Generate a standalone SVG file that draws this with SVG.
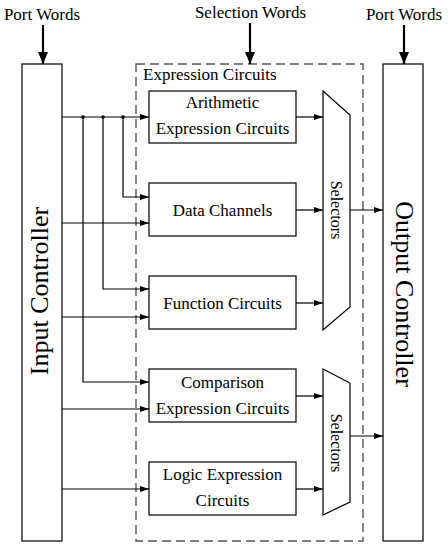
<svg xmlns="http://www.w3.org/2000/svg" width="448" height="550" viewBox="0 0 448 550" font-family="'Liberation Serif', serif">
<defs>
<style>
text{font-family:'Liberation Serif',serif;fill:#000}
.t{font-size:17px;text-anchor:middle}
.big{font-size:26px;text-anchor:middle}
.box{fill:#fff;stroke:#000;stroke-width:1.2}
.ln{fill:none;stroke:#000;stroke-width:1.2}
.thick{fill:none;stroke:#000;stroke-width:2.2}
</style>
<marker id="a" markerWidth="9" markerHeight="6" refX="9" refY="3" orient="auto" markerUnits="userSpaceOnUse">
<path d="M0,0 L9,3 L0,6 Z" fill="#000"/>
</marker>
<marker id="b" markerWidth="12" markerHeight="10" refX="12" refY="5" orient="auto" markerUnits="userSpaceOnUse">
<path d="M0,0 L12,5 L0,10 Z" fill="#000"/>
</marker>
</defs>
<rect width="448" height="550" fill="#fff"/>

<g id="labels">
<text class="t" x="42" y="20">Port Words</text>
<text class="t" x="250.5" y="18">Selection Words</text>
<text class="t" x="404" y="20">Port Words</text>
</g>

<g id="expression-circuits">
<rect x="136" y="64" width="227" height="477" fill="none" stroke="#555" stroke-width="1.4" stroke-dasharray="9,5"/>
<text x="143" y="80" style="font-size:17px">Expression Circuits</text>
</g>

<g id="input-controller">
<rect class="box" x="22" y="64" width="40" height="477"/>
<text class="big" transform="translate(48,291) rotate(-90)">Input Controller</text>
</g>

<g id="output-controller">
<rect class="box" x="383" y="64" width="40" height="477"/>
<text class="big" transform="translate(396,294) rotate(90)">Output Controller</text>
</g>

<g id="arithmetic">
<rect class="box" x="149" y="91" width="147" height="52"/>
<text class="t" x="222.5" y="108">Arithmetic</text>
<text class="t" x="222.5" y="134">Expression Circuits</text>
</g>

<g id="data-channels">
<rect class="box" x="149" y="183" width="147" height="53"/>
<text class="t" x="222.5" y="216">Data Channels</text>
</g>

<g id="function-circuits">
<rect class="box" x="149" y="276" width="147" height="53"/>
<text class="t" x="222.5" y="309">Function Circuits</text>
</g>

<g id="comparison">
<rect class="box" x="149" y="369" width="147" height="53"/>
<text class="t" x="222.5" y="388">Comparison</text>
<text class="t" x="222.5" y="414">Expression Circuits</text>
</g>

<g id="logic">
<rect class="box" x="149" y="462" width="147" height="53"/>
<text class="t" x="222.5" y="480">Logic Expression</text>
<text class="t" x="222.5" y="506">Circuits</text>
</g>

<g id="selectors-1">
<polygon class="box" points="323,91 350,115 350,307 323,330"/>
<text transform="translate(331,210) rotate(90)" style="font-size:16px;text-anchor:middle">Selectors</text>
</g>

<g id="selectors-2">
<polygon class="box" points="323,369 350,383 350,502 323,515"/>
<text transform="translate(331,443) rotate(90)" style="font-size:16px;text-anchor:middle">Selectors</text>
</g>

<g id="connectors">
<line class="thick" x1="43" y1="25" x2="43" y2="64" marker-end="url(#b)"/>
<line class="thick" x1="250" y1="23" x2="250" y2="64" marker-end="url(#b)"/>
<line class="thick" x1="404" y1="25" x2="404" y2="64" marker-end="url(#b)"/>

<line class="ln" x1="62" y1="117" x2="149" y2="117" marker-end="url(#a)"/>
<circle cx="83" cy="117" r="1.8" fill="#000"/>
<circle cx="103" cy="117" r="1.8" fill="#000"/>
<circle cx="123" cy="117" r="1.8" fill="#000"/>
<polyline class="ln" points="123,117 123,197 149,197" marker-end="url(#a)"/>
<polyline class="ln" points="103,117 103,289 149,289" marker-end="url(#a)"/>
<polyline class="ln" points="83,117 83,382 149,382" marker-end="url(#a)"/>
<line class="ln" x1="62" y1="223" x2="149" y2="223" marker-end="url(#a)"/>
<line class="ln" x1="62" y1="317" x2="149" y2="317" marker-end="url(#a)"/>
<line class="ln" x1="62" y1="409" x2="149" y2="409" marker-end="url(#a)"/>
<line class="ln" x1="62" y1="489" x2="149" y2="489" marker-end="url(#a)"/>

<line class="ln" x1="296" y1="117" x2="323" y2="117" marker-end="url(#a)"/>
<line class="ln" x1="296" y1="210" x2="323" y2="210" marker-end="url(#a)"/>
<line class="ln" x1="296" y1="303" x2="323" y2="303" marker-end="url(#a)"/>
<line class="ln" x1="296" y1="396" x2="323" y2="396" marker-end="url(#a)"/>
<line class="ln" x1="296" y1="489" x2="323" y2="489" marker-end="url(#a)"/>

<line class="ln" x1="350" y1="210" x2="383" y2="210" marker-end="url(#a)"/>
<line class="ln" x1="350" y1="436" x2="383" y2="436" marker-end="url(#a)"/>
</g>
</svg>
